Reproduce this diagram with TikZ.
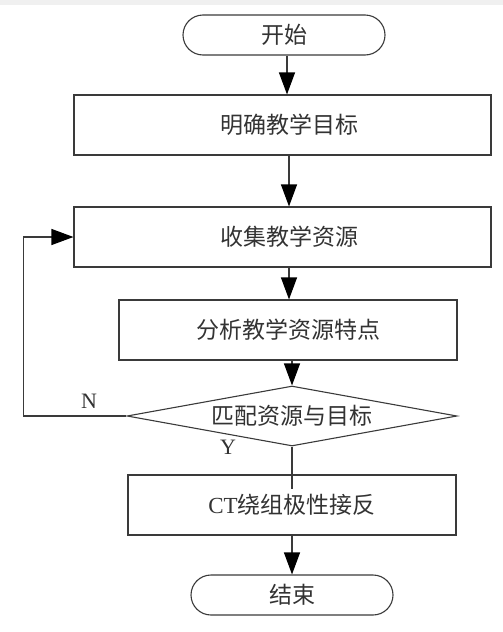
\documentclass[tikz,border=0pt]{standalone}
\usepackage{fontspec}
\setmainfont{Liberation Serif}
\newfontfamily\cjk{Noto Sans CJK SC}
\usetikzlibrary{arrows.meta,shapes.geometric,shapes.misc}
\definecolor{ln}{HTML}{3A3A3A}
\begin{document}
\begin{tikzpicture}[x=1pt,y=-1pt,
  every node/.style={text=black!80},
  proc/.style={draw=ln,line width=1.1pt,rectangle,minimum height=60pt,inner sep=0pt,font=\fontsize{23pt}{26pt}\selectfont\cjk},
  term/.style={draw=ln,line width=1.1pt,rounded rectangle,minimum width=202pt,minimum height=40pt,inner sep=0pt,font=\fontsize{23pt}{26pt}\selectfont\cjk},
  dec/.style={draw=ln,line width=1.1pt,diamond,aspect=5.5,minimum width=330pt,minimum height=60pt,inner sep=0pt,font=\fontsize{23pt}{26pt}\selectfont\cjk},
  flow/.style={draw=ln,line width=1.1pt,-{Triangle[length=22pt,width=16pt,color=black]}},
  lab/.style={font=\fontsize{22pt}{24pt}\selectfont}]
\useasboundingbox (0,0) rectangle (503,632);
\fill[black!6] (0,0) rectangle (503,5);
\node[term] (s) at (284,35) {开始};
\node[proc,minimum width=417pt] (b1) at (282.5,125) {\hspace*{14pt}明确教学目标};
\node[proc,minimum width=417pt] (b2) at (282.5,237) {\hspace*{14pt}收集教学资源};
\node[proc,minimum width=338pt] (b3) at (288,330) {分析教学资源特点};
\node[dec] (d) at (292,416) {匹配资源与目标};
\node[proc,minimum width=328pt] (b4) at (292,505) {{\fontspec{Liberation Serif}CT}绕组极性接反};
\node[term] (e) at (292,595) {结束};
\draw[flow] (s.south -| 287,0) -- (b1.north -| 287,0);
\draw[flow] (b1.south -| 289,0) -- (b2.north -| 289,0);
\draw[flow] (b2.south -| 289,0) -- (b3.north -| 289,0);
\draw[flow] (b3.south -| 292,0) -- (d.north);
\draw[flow] (d.west) -- ++(-103,0) |- (b2.west);
\draw[draw=ln,line width=1.1pt] (d.south) -- ([yshift=-15pt]b4.north);
\draw[flow] (b4.south) -- (e.north);
\node[lab] (n) at (89,401) {N};
\node[lab] (y) at (228,447) {Y};
\end{tikzpicture}
\end{document}
